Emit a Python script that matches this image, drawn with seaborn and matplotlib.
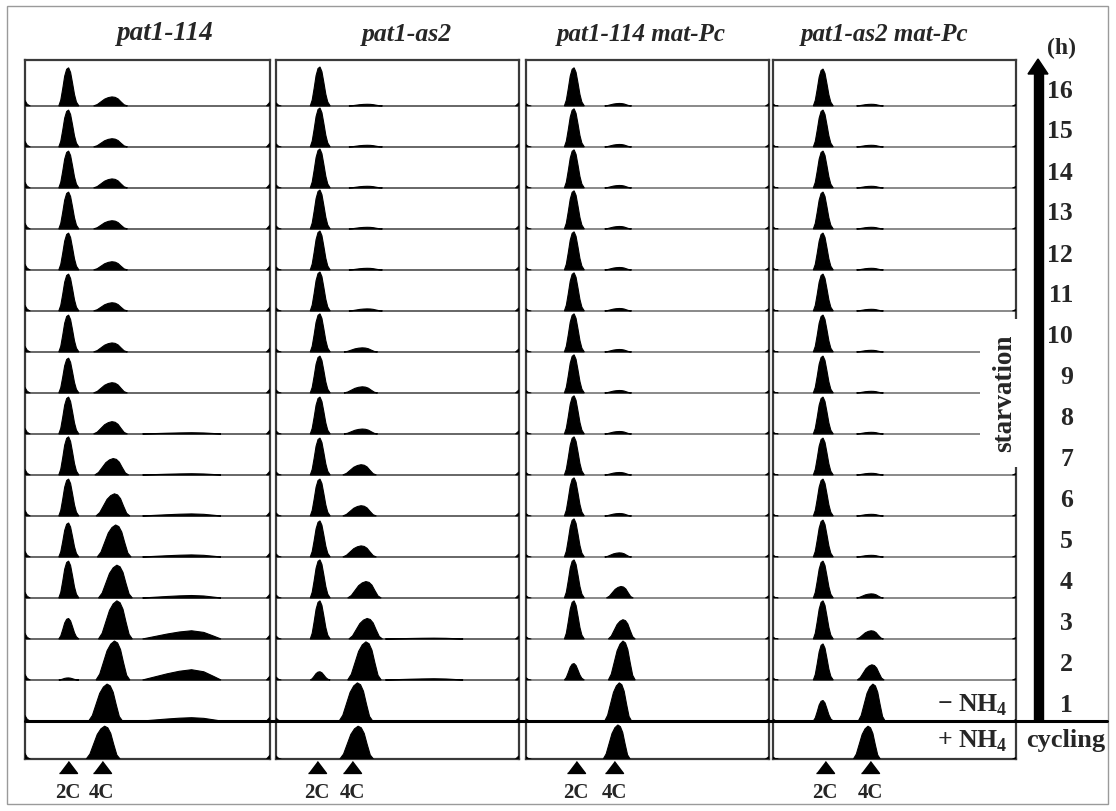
import matplotlib.pyplot as plt
import matplotlib.transforms as mtransforms
from matplotlib.patches import Polygon, Rectangle
import numpy as np
import seaborn as sns

# panel titles and row labels (top row = 16 h of starvation, bottom = cycling)
strains = ["pat1-114", "pat1-as2", "pat1-114 mat-Pc", "pat1-as2 mat-Pc"]
hours = [16, 15, 14, 13, 12, 11, 10, 9, 8, 7, 6, 5, 4, 3, 2, 1]

# peak heights, in units of row spacing (top -> bottom)
p114_2c = [0.93, 0.90, 0.90, 0.90, 0.90, 0.90, 0.90, 0.85, 0.90, 0.93, 0.90, 0.83, 0.90, 0.50, 0.05, 0.00, 0.00]
p114_4c = [0.22, 0.20, 0.22, 0.20, 0.20, 0.20, 0.22, 0.25, 0.30, 0.40, 0.54, 0.78, 0.80, 0.93, 0.95, 0.90, 0.80]
p114_8c = [0, 0, 0, 0, 0, 0, 0, 0, 0.03, 0.03, 0.05, 0.05, 0.06, 0.20, 0.25, 0.08, 0]
p114_4c_pos = [0.35, 0.35, 0.35, 0.35, 0.35, 0.35, 0.35, 0.35, 0.35, 0.355, 0.36, 0.365, 0.37, 0.37, 0.36, 0.33, 0.32]

pas2_2c = [0.95, 0.95, 0.95, 0.95, 0.95, 0.95, 0.93, 0.90, 0.90, 0.90, 0.90, 0.88, 0.93, 0.93, 0.20, 0.00, 0.00]
pas2_4c = [0.04, 0.04, 0.04, 0.04, 0.04, 0.05, 0.10, 0.15, 0.12, 0.25, 0.25, 0.27, 0.40, 0.50, 0.93, 0.93, 0.80]
pas2_8c = [0, 0, 0, 0, 0, 0, 0, 0, 0, 0, 0, 0, 0, 0.02, 0.03, 0, 0]
pas2_4c_pos = [0.37, 0.37, 0.37, 0.37, 0.37, 0.37, 0.35, 0.35, 0.35, 0.345, 0.345, 0.345, 0.365, 0.37, 0.365, 0.33, 0.333]

pc114_2c = [0.93, 0.93, 0.93, 0.93, 0.93, 0.93, 0.93, 0.93, 0.93, 0.93, 0.93, 0.93, 0.93, 0.93, 0.40, 0.00, 0.00]
pc114_4c = [0.06, 0.06, 0.06, 0.06, 0.06, 0.06, 0.06, 0.06, 0.06, 0.06, 0.06, 0.10, 0.28, 0.47, 0.95, 0.93, 0.83]
pc114_8c = [0] * 17
pc114_4c_pos = [0.38, 0.38, 0.38, 0.38, 0.38, 0.38, 0.38, 0.38, 0.38, 0.38, 0.38, 0.38, 0.387, 0.395, 0.395, 0.38, 0.374]

pcas2_2c = [0.90, 0.90, 0.90, 0.90, 0.90, 0.90, 0.90, 0.90, 0.90, 0.90, 0.90, 0.90, 0.90, 0.93, 0.88, 0.50, 0.00]
pcas2_4c = [0.04, 0.04, 0.04, 0.04, 0.04, 0.04, 0.04, 0.04, 0.04, 0.04, 0.04, 0.04, 0.10, 0.20, 0.37, 0.90, 0.80]
pcas2_8c = [0] * 17
pcas2_4c_pos = [0.40, 0.40, 0.40, 0.40, 0.40, 0.40, 0.40, 0.40, 0.40, 0.40, 0.40, 0.40, 0.40, 0.40, 0.403, 0.407, 0.387]

# per-panel peak positions (fraction of the channel axis)
pos_2c = [0.178, 0.181, 0.198, 0.206]
pos_8c = [0.65, 0.62, 0.65, 0.65]
width_4c = [1.0, 1.0, 0.8, 0.8]
mark_2c = [0.176, 0.169, 0.206, 0.214]
mark_4c = [0.314, 0.313, 0.362, 0.400]
edge_left = [0.14, 0.08, 0.06, 0.05]
edge_right = [0.10, 0.08, 0.06, 0.04]

# normalised peak shapes
g1_dx = [-0.04, -0.032, -0.024, -0.016, -0.008, 0.0, 0.008, 0.016, 0.024, 0.032, 0.042]
g1_h = [0, 0.15, 0.45, 0.78, 0.96, 1.0, 0.88, 0.6, 0.3, 0.1, 0]
g2_dx = [-0.07, -0.055, -0.04, -0.025, -0.01, 0.005, 0.018, 0.03, 0.042, 0.055, 0.068]
g2_h = [0, 0.15, 0.45, 0.75, 0.92, 1.0, 0.95, 0.78, 0.45, 0.12, 0]
g4_dx = [-0.17, -0.12, -0.07, -0.02, 0.03, 0.08, 0.12, 0.15]
g4_h = [0, 0.3, 0.6, 0.85, 1.0, 0.8, 0.35, 0]

panels = [
    (p114_2c, p114_4c, p114_8c, p114_4c_pos),
    (pas2_2c, pas2_4c, pas2_8c, pas2_4c_pos),
    (pc114_2c, pc114_4c, pc114_8c, pc114_4c_pos),
    (pcas2_2c, pcas2_4c, pcas2_8c, pcas2_4c_pos),
]

sns.set_theme(style="white")
plt.rcParams["font.family"] = ["Liberation Serif", "DejaVu Serif"]
plt.rcParams["mathtext.fontset"] = "custom"
plt.rcParams["mathtext.rm"] = "Liberation Serif:bold"
plt.rcParams["mathtext.bf"] = "Liberation Serif:bold"

W, H = 1116, 812
fig = plt.figure(figsize=(W / 100, H / 100), dpi=100)
fig.patch.set_facecolor("white")

panel_x = [(25, 270), (276, 519), (526, 769), (773, 1016)]
top, bottom = 61, 760
baselines = [float(h) for h in hours] + [0.073]


def peak(ax, center, base, height, dx, hh, scale=1.0):
    if height <= 0:
        return
    xs = [center + d * scale for d in dx]
    ys = [base + height * v for v in hh]
    ax.fill(xs, ys, color="black", lw=0.8, zorder=3)


for k, (x0, x1) in enumerate(panel_x):
    ax = fig.add_axes([x0 / W, 1 - bottom / H, (x1 - x0) / W, (bottom - top) / H])
    ax.set_xlim(0, 1)
    ax.set_ylim(0.073, 17.12)
    ax.set_xticks([])
    ax.set_yticks([])
    for s in ax.spines.values():
        s.set_color("#3a3a3a")
        s.set_linewidth(1.6)
    h2, h4, h8, p4 = panels[k]
    line_col = "#5a5a5a" if k < 2 else "#808080"
    for r, b in enumerate(baselines):
        ax.axhline(b, color=line_col, lw=1.3, zorder=2)
        peak(ax, pos_2c[k], b, h2[r], g1_dx, g1_h)
        peak(ax, p4[r], b, h4[r], g2_dx, g2_h, width_4c[k])
        peak(ax, pos_8c[k], b, h8[r], g4_dx, g4_h)
        el, er = edge_left[k], edge_right[k]
        ax.fill([0, 0, 0.01, 0.022], [b, b + el, b + el * 0.3, b], color="black", lw=0.5, zorder=3)
        ax.fill([0.985, 1, 1], [b, b + er, b], color="black", lw=0.5, zorder=3)
    tr = mtransforms.blended_transform_factory(ax.transData, ax.transAxes)
    tri = [(-1, -0.66), (1, -0.66), (0, 0.66)]
    ax.plot([mark_2c[k], mark_4c[k]], [-0.011, -0.011], ls="none", marker=tri,
            ms=13, color="black", transform=tr, clip_on=False)
    for m, lab in [(mark_2c[k], "2C"), (mark_4c[k], "4C")]:
        ax.text(m, -0.047, lab, transform=tr, ha="center", va="center",
                fontsize=15, fontweight="bold")

# overlay in pixel coordinates for annotations
ov = fig.add_axes([0, 0, 1, 1])
ov.set_xlim(0, W)
ov.set_ylim(H, 0)
ov.axis("off")
ov.add_patch(Rectangle((7, 7), 1101, 798, fill=False, edgecolor="#9a9a9a", lw=1))

title_x = [165, 407, 641, 885]
title_size = [19.5, 18.5, 18, 18]
for tx, name, fs in zip(title_x, strains, title_size):
    ov.text(tx, 34, name, ha="center", va="center", fontsize=fs,
            fontweight="bold", fontstyle="italic")

# separator between starved and cycling rows
ov.plot([25, 1107], [722, 722], color="black", lw=2.2)

# time arrow
ov.add_patch(Rectangle((1034, 72), 9, 650, color="black"))
ov.add_patch(Polygon([[1028, 75], [1048, 75], [1038, 60]], closed=True, color="black"))
ov.text(1062, 48, "(h)", ha="center", va="center", fontsize=17, fontweight="bold")
for i, h in enumerate(hours):
    ov.text(1073, 91 + i * 41, str(h), ha="right", va="center", fontsize=18.5, fontweight="bold")

# starvation label over a white gap
ov.add_patch(Rectangle((980, 320), 40, 148, facecolor="white", edgecolor="none"))
ov.text(1005, 393, "starvation", rotation=90, ha="center", va="center",
        fontsize=19.5, fontweight="bold")

ov.text(1008, 705, "\u2212 NH$_4$", ha="right", va="center", fontsize=18.5, fontweight="bold")
ov.text(1008, 741, "+ NH$_4$", ha="right", va="center", fontsize=18.5, fontweight="bold")
ov.text(1026, 741, "cycling", ha="left", va="center", fontsize=19, fontweight="bold")

fig.savefig("out.png", dpi=100)
